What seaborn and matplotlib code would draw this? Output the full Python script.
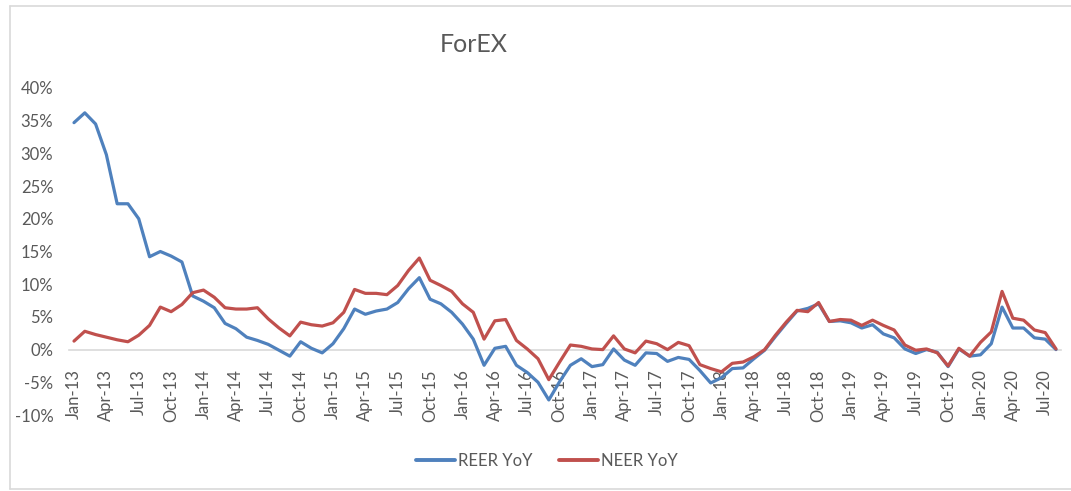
import matplotlib
matplotlib.use("Agg")
import matplotlib.pyplot as plt
from matplotlib.lines import Line2D
import seaborn as sns
import pandas as pd
import numpy as np

# ---- data ----
months = list(pd.date_range("2013-01-01", periods=92, freq="MS").strftime("%b-%y"))

reer_yoy = [34.7, 36.2, 34.5, 29.8, 22.3, 22.3, 20.0, 14.2, 15.0, 14.3, 13.4, 8.2,
            7.4, 6.4, 4.0, 3.2, 1.9, 1.4, 0.8, -0.1, -1.0, 1.2, 0.2, -0.5,
            0.9, 3.2, 6.2, 5.4, 5.9, 6.2, 7.2, 9.3, 11.0, 7.7, 7.0, 5.7,
            3.9, 1.6, -2.4, 0.2, 0.5, -2.4, -3.5, -5.0, -7.7, -4.9, -2.4, -1.4,
            -2.6, -2.3, 0.1, -1.6, -2.4, -0.5, -0.6, -1.8, -1.2, -1.5, -3.2, -5.1,
            -4.3, -2.9, -2.8, -1.4, -0.1, 2.0, 4.0, 5.9, 6.3, 7.0, 4.3, 4.4,
            4.1, 3.3, 3.8, 2.4, 1.8, 0.1, -0.6, 0.0, -0.4, -2.6, 0.1, -1.0,
            -0.8, 0.9, 6.5, 3.3, 3.3, 1.8, 1.6, 0.0]

neer_yoy = [1.3, 2.8, 2.3, 1.9, 1.5, 1.2, 2.2, 3.7, 6.5, 5.8, 6.9, 8.7,
            9.1, 8.0, 6.4, 6.2, 6.2, 6.4, 4.7, 3.3, 2.1, 4.2, 3.8, 3.6,
            4.1, 5.7, 9.2, 8.6, 8.6, 8.4, 9.8, 12.1, 14.0, 10.6, 9.8, 8.9,
            7.0, 5.7, 1.6, 4.4, 4.6, 1.4, 0.1, -1.4, -4.6, -1.9, 0.7, 0.5,
            0.1, 0.0, 2.1, 0.1, -0.5, 1.3, 0.9, 0.0, 1.1, 0.6, -2.3, -2.9,
            -3.4, -2.1, -1.9, -1.1, 0.0, 2.2, 4.2, 6.0, 5.8, 7.2, 4.3, 4.6,
            4.5, 3.7, 4.5, 3.7, 3.0, 0.7, -0.1, 0.1, -0.5, -2.5, 0.2, -1.0,
            1.1, 2.7, 8.9, 4.8, 4.5, 3.0, 2.6, 0.1]

series_names = ["REER YoY", "NEER YoY"]
y_ticks = [-10, -5, 0, 5, 10, 15, 20, 25, 30, 35, 40]

# ---- styling ----
sns.set_theme(style="white")
plt.rcParams["font.family"] = ["Lato", "DejaVu Sans"]
text_color = "#595959"
colors = {"REER YoY": "#4F81BD", "NEER YoY": "#C0504D"}

df = pd.DataFrame({
    "idx": list(range(len(months))) * 2,
    "value": reer_yoy + neer_yoy,
    "Series": [series_names[0]] * len(reer_yoy) + [series_names[1]] * len(neer_yoy),
})

W, H = 1071, 491
fig = plt.figure(figsize=(W / 100, H / 100), dpi=100)
ax = fig.add_axes([68.6 / W, 1 - 415 / H, (1061.4 - 68.6) / W, (415 - 88) / H])

# spines first (set_position resets tick properties)
for s in ["top", "right", "left"]:
    ax.spines[s].set_visible(False)
ax.spines["bottom"].set_position(("data", 0))
ax.spines["bottom"].set_color("#D9D9D9")
ax.spines["bottom"].set_linewidth(1.2)
ax.spines["bottom"].set_zorder(0.5)

sns.lineplot(data=df, x="idx", y="value", hue="Series", palette=colors,
             linewidth=2.3, ax=ax, legend=False, sort=False)
for ln in ax.lines:
    ln.set_solid_joinstyle("round")
    ln.set_solid_capstyle("round")

ax.set_xlim(-0.5, len(months) - 0.5)
ax.set_ylim(-10, 40)
ax.set_yticks(y_ticks)
ax.set_yticklabels([f"{t}%" for t in y_ticks], color=text_color, fontsize=12)
tick_pos = list(range(0, len(months), 3))
ax.set_xticks(tick_pos)
ax.set_xticklabels([months[i] for i in tick_pos], rotation=90, color=text_color, fontsize=12)
ax.tick_params(axis="both", length=0)
ax.tick_params(axis="y", pad=11)
ax.tick_params(axis="x", pad=14)
ax.set_xlabel("")
ax.set_ylabel("")
ax.grid(False)

fig.text(474 / W, 1 - 44 / H, "ForEX", ha="center", va="center", fontsize=18, color=text_color)

handles = [Line2D([0], [0], color=colors[n], lw=2.8) for n in series_names]
fig.legend(handles, series_names, loc="center", bbox_to_anchor=(547 / W, 1 - 461 / H),
           ncol=2, frameon=False, fontsize=12, handlelength=2.3, handletextpad=0.2,
           columnspacing=1.6, labelcolor=text_color)

# chart frame
frame_col = "#D9D9D9"
fig.add_artist(Line2D([10 / W, 10 / W], [1 - 6 / H, 1 - 489 / H], color=frame_col, lw=1.2))
fig.add_artist(Line2D([10 / W, 1.0], [1 - 6 / H, 1 - 6 / H], color=frame_col, lw=1.2))
fig.add_artist(Line2D([10 / W, 1.0], [1 - 489 / H, 1 - 489 / H], color=frame_col, lw=1.2))

fig.savefig("out.png", dpi=100)
